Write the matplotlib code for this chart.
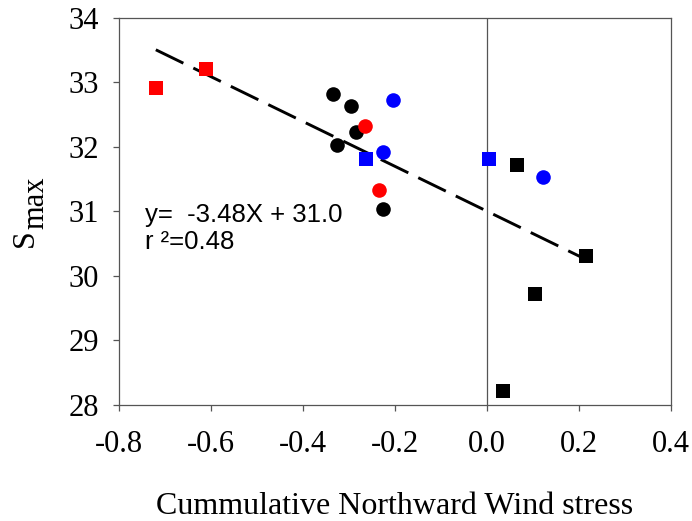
#!/usr/bin/env python3
import numpy as np
import matplotlib
matplotlib.use('Agg')
import matplotlib.pyplot as plt

"""
Maximum salinity against cumulative northward wind stress, with linear fit.
"""

# red squares
red_sq_x = [-0.720, -0.612]
red_sq_y = [32.91, 33.21]
# blue squares
blue_sq_x = [-0.263, 0.005]
blue_sq_y = [31.81, 31.81]
# black squares
black_sq_x = [0.065, 0.215, 0.105, 0.035]
black_sq_y = [31.71, 30.31, 29.71, 28.21]
# red circles
red_ci_x = [-0.266, -0.235]
red_ci_y = [32.33, 31.33]
# blue circles
blue_ci_x = [-0.205, -0.227, 0.122]
blue_ci_y = [32.73, 31.92, 31.53]
# black circles
black_ci_x = [-0.335, -0.296, -0.285, -0.326, -0.227]
black_ci_y = [32.82, 32.63, 32.23, 32.02, 31.03]

# regression y = a*x + b, r^2
slope = -3.48
intercept = 31.0
r2 = 0.48
fit_x = [-0.72, 0.215]

x_ticks = [-0.8, -0.6, -0.4, -0.2, 0.0, 0.2, 0.4]
y_ticks = [28, 29, 30, 31, 32, 33, 34]

plt.rcParams['font.family'] = ['Liberation Serif', 'DejaVu Serif']

axis_grey = '#555555'

fig = plt.figure(figsize=(6.92, 5.21), dpi=100)
ax = fig.add_axes([0.172, 0.2236, 0.7977, 0.742])

ax.axvline(0.0, color=axis_grey, lw=0.9, zorder=1)

fx = np.array(fit_x)
ax.plot(fx, slope * fx + intercept, color='black', lw=2.1,
        dashes=(10.5, 3.8), dash_capstyle='butt', zorder=2)

ms = 10.5
ax.plot(red_sq_x, red_sq_y, 's', color='#ff0000', ms=ms, mew=0, zorder=3)
ax.plot(blue_sq_x, blue_sq_y, 's', color='#0000ff', ms=ms, mew=0, zorder=3)
ax.plot(black_sq_x, black_sq_y, 's', color='black', ms=ms, mew=0, zorder=3)
ax.plot(black_ci_x, black_ci_y, 'o', color='black', ms=ms, mew=0, zorder=3)
ax.plot(red_ci_x, red_ci_y, 'o', color='#ff0000', ms=ms, mew=0, zorder=4)
ax.plot(blue_ci_x, blue_ci_y, 'o', color='#0000ff', ms=ms, mew=0, zorder=4)

eq_font = ['Liberation Sans', 'DejaVu Sans']
ax.text(-0.7435, 30.838, 'y=  {:.2f}X + {:.1f}'.format(slope, intercept),
        family=eq_font, fontsize=18.5, va='baseline')
ax.text(-0.7435, 30.414, 'r \u00b2={:.2f}'.format(r2),
        family=eq_font, fontsize=18.5, va='baseline')

ax.set_xlim(-0.8, 0.4)
ax.set_ylim(28, 34)
ax.set_xticks(x_ticks)
ax.set_xticklabels(['{:.1f}'.format(v) for v in x_ticks])
ax.set_yticks(y_ticks)

for s in ax.spines.values():
    s.set_color(axis_grey)
    s.set_linewidth(0.9)
ax.tick_params(axis='both', direction='out', length=4.5, width=0.9,
               color=axis_grey, labelsize=22)
ax.tick_params(axis='x', pad=14)
ax.tick_params(axis='y', pad=10)

ax.set_xlabel('Cummulative Northward Wind stress', fontsize=23, labelpad=23.5)

# y label: S with a lowered, full-size "max"
fig.text(0.0477, 0.526, 'S', fontsize=23, rotation=90,
         rotation_mode='anchor', ha='left', va='baseline')
fig.text(0.0621, 0.5605, 'max', fontsize=22, rotation=90,
         rotation_mode='anchor', ha='left', va='baseline')

fig.savefig('out.png', dpi=100)
